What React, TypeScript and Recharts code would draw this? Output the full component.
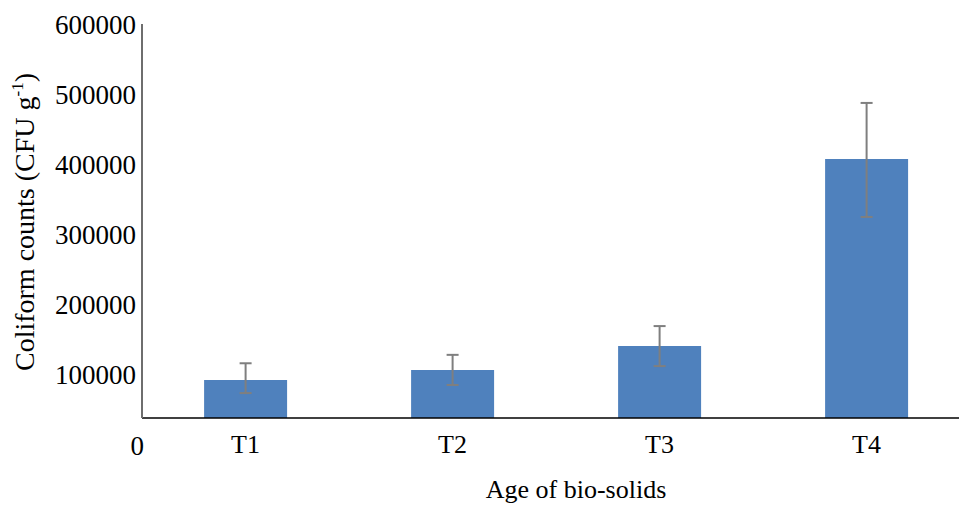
import React from 'react';
import { BarChart, Bar, XAxis, YAxis, ErrorBar } from 'recharts';

const categories = ['T1', 'T2', 'T3', 'T4'];
const counts = [92500, 107000, 141000, 407500];
const errLow = [18500, 21500, 28500, 82500];
const errHigh = [24000, 21500, 28500, 80000];
const yTicks = [0, 100000, 200000, 300000, 400000, 500000, 600000];
const yMin = 38500;
const yMax = 600000;

const data = categories.map((c, i) => ({
  name: c,
  value: counts[i],
  err: [errLow[i], errHigh[i]],
}));

const FONT = '"Liberation Serif", "Times New Roman", serif';

const YTick = (props: any) => {
  const { x, y, payload } = props;
  const shift = payload.value === 0 ? 8 : 0;
  return (
    <text x={x + shift} y={y} dy="0.355em" textAnchor="end" fontSize={27} fill="#000" fontFamily={FONT}>
      {payload.value}
    </text>
  );
};

const XTick = (props: any) => {
  const { x, y, payload } = props;
  return (
    <text x={x} y={y} dy="0.71em" textAnchor="middle" fontSize={26} fill="#000" fontFamily={FONT}>
      {payload.value}
    </text>
  );
};

const XLabel = (props: any) => {
  const vb = props.viewBox || {};
  return (
    <text x={vb.x + vb.width / 2 + 20} y={498} textAnchor="middle" fontSize={26} fill="#000" fontFamily={FONT}>
      Age of bio-solids
    </text>
  );
};

const YLabel = () => {
  const cx = 34;
  const cy = 222;
  return (
    <text x={cx} y={cy} transform={`rotate(-90, ${cx}, ${cy})`} textAnchor="middle" fontSize={28} fill="#000" fontFamily={FONT}>
      Coliform counts (CFU g<tspan dy={-11} fontSize={17}>-1</tspan><tspan dy={11}>)</tspan>
    </text>
  );
};

export default function App() {
  return (
    <div style={{ position: 'fixed', left: 0, top: 0, width: 959, height: 506, overflow: 'hidden', background: '#fff' }}>
      <BarChart
        width={975}
        height={506}
        data={data}
        margin={{ top: 24, right: 5, bottom: 0, left: 0 }}
        barCategoryGap="30%"
      >
        <XAxis
          dataKey="name"
          height={88}
          tickLine={false}
          tickMargin={11}
          tick={<XTick />}
          axisLine={{ stroke: '#000', strokeWidth: 1.5 }}
          label={<XLabel />}
        />
        <YAxis
          width={142}
          domain={[yMin, yMax]}
          allowDataOverflow
          ticks={yTicks}
          interval={0}
          tickLine={false}
          tickMargin={0}
          tick={<YTick />}
          axisLine={{ stroke: '#6e6e6e', strokeWidth: 2 }}
          label={<YLabel />}
        />
        <Bar dataKey="value" fill="#4f81bd" isAnimationActive={false}>
          <ErrorBar dataKey="err" width={6} stroke="#7f7f7f" strokeWidth={2} isAnimationActive={false} />
        </Bar>
      </BarChart>
    </div>
  );
}
